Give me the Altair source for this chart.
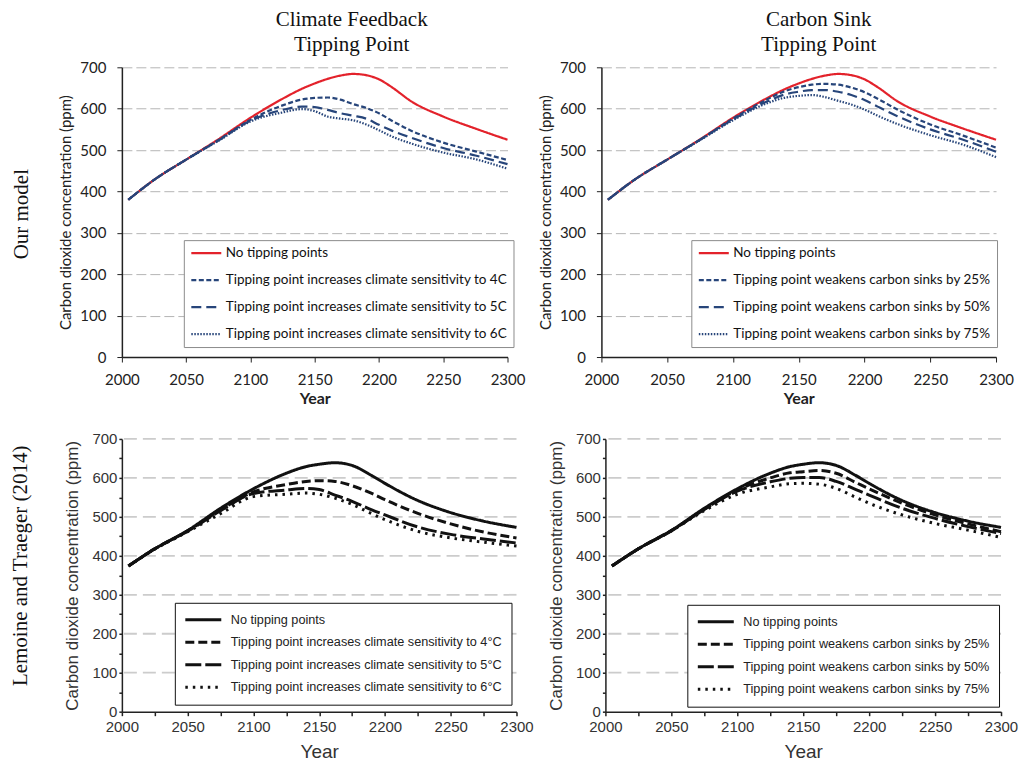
import altair as alt
import pandas as pd

# ---------------- data ----------------
YEARS_OURS = [2005, 2025, 2050, 2075, 2100, 2125, 2140, 2150, 2160, 2170, 2180, 2190, 2200, 2210, 2225, 2250, 2275, 2300]
OURS_NO_TIP = [380, 428, 477, 526, 578, 624, 648, 661, 672, 680, 684, 681, 671, 652, 618, 581, 552, 525]
OURS_CS4 = [380, 428, 477, 524, 573, 608, 622, 626, 627, 622, 611, 602, 589, 571, 547, 518, 497, 476]
OURS_CS5 = [380, 428, 477, 523, 571, 597, 605, 604, 597, 589, 583, 576, 561, 547, 530, 505, 487, 466]
OURS_CS6 = [380, 428, 477, 522, 569, 591, 599, 594, 581, 576, 572, 562, 548, 533, 516, 494, 478, 455]
OURS_SINK25 = [380, 428, 477, 525, 576, 621, 643, 652, 658, 660, 658, 651, 640, 624, 598, 562, 535, 506]
OURS_SINK50 = [380, 428, 477, 525, 574, 616, 635, 641, 645, 645, 641, 633, 621, 605, 582, 550, 525, 496]
OURS_SINK75 = [380, 428, 477, 524, 572, 612, 627, 631, 633, 628, 619, 610, 598, 583, 563, 536, 513, 483]

YEARS_LT = [2005, 2025, 2050, 2075, 2100, 2125, 2140, 2150, 2162, 2175, 2190, 2200, 2225, 2250, 2275, 2300]
LT_NO_TIP = [374, 418, 465, 522, 572, 612, 629, 635, 639, 632, 606, 586, 542, 511, 489, 473]
LT_CS4 = [374, 418, 464, 518, 564, 583, 591, 593, 591, 580, 560, 544, 509, 482, 461, 446]
LT_CS5 = [374, 418, 463, 516, 560, 569, 573, 570, 556, 540, 518, 505, 474, 455, 443, 433]
LT_CS6 = [374, 417, 462, 508, 552, 558, 561, 558, 548, 532, 508, 493, 463, 446, 435, 425]
LT_SINK25 = [374, 418, 465, 520, 569, 600, 613, 616, 619, 612, 588, 572, 535, 505, 482, 462]
LT_SINK50 = [374, 418, 464, 519, 566, 590, 599, 601, 601, 591, 570, 556, 522, 496, 475, 457]
LT_SINK75 = [374, 418, 464, 516, 558, 577, 585, 586, 584, 573, 550, 535, 505, 483, 466, 447]

LABELS_OURS_CS = [
    "No tipping points",
    "Tipping point increases climate sensitivity to 4C",
    "Tipping point increases climate sensitivity to 5C",
    "Tipping point increases climate sensitivity to 6C",
]
LABELS_SINK = [
    "No tipping points",
    "Tipping point weakens carbon sinks by 25%",
    "Tipping point weakens carbon sinks by 50%",
    "Tipping point weakens carbon sinks by 75%",
]
LABELS_LT_CS = [
    "No tipping points",
    "Tipping point increases climate sensitivity to 4°C",
    "Tipping point increases climate sensitivity to 5°C",
    "Tipping point increases climate sensitivity to 6°C",
]
COL_TITLES = [["Climate Feedback", "Tipping Point"], ["Carbon Sink", "Tipping Point"]]
ROW_LABELS = ["Our model", "Lemoine and Traeger (2014)"]
X_TICKS = [2000, 2050, 2100, 2150, 2200, 2250, 2300]
X_TICKS_MINOR = [2000, 2025, 2050, 2075, 2100, 2125, 2150, 2175, 2200, 2225, 2250, 2275, 2300]
Y_TICKS = [0, 100, 200, 300, 400, 500, 600, 700]
Y_TICKS_MINOR = [0, 50, 100, 150, 200, 250, 300, 350, 400, 450, 500, 550, 600, 650, 700]
Y_GRID_LT = [100, 200, 300, 400, 500, 600, 700]

X_TITLE = "Year"
Y_TITLE = "Carbon dioxide concentration (ppm)"

# ---------------- styles ----------------
RED = "#e3222b"
BLUE = "#27457a"
TOP_COLORS = [RED, BLUE, BLUE, BLUE]
TOP_DASHES = [[1, 0], [5, 2.5], [10, 5], [1.5, 1.5]]
TOP_WIDTHS = [2.2, 2.2, 2.2, 1.6]
BOT_COLORS = ["#111111"] * 4
BOT_DASHES = [[1, 0], [9, 4], [16, 4], [2.5, 5]]
BOT_WIDTHS = [3, 3, 2, 2.5]

TOP_FONT = "Lato"
BOT_FONT = "Liberation Sans"
SERIF = "Liberation Serif"

TOP_H = 290
BOT_H = 273
ROW_GAP = 82


def long_df(years, series, labels):
    rows = []
    for lab, vals in zip(labels, series):
        for yr, v in zip(years, vals):
            rows.append({"year": yr, "ppm": v, "series": lab})
    return pd.DataFrame(rows)


def top_panel(series, labels, width, legend_x, title, title_dx, row_label=None):
    df = long_df(YEARS_OURS, series, labels)
    xs = alt.Scale(domain=[2000, 2300], nice=False, zero=False)
    ys = alt.Scale(domain=[0, 700], nice=False)
    xa = alt.Axis(values=X_TICKS, format="d", grid=False, tickSize=5, tickColor="#222",
                  domainColor="#222", domainWidth=1.5, labelFont=TOP_FONT, labelFontSize=15,
                  labelColor="#222", labelPadding=11, labelFlush=False, title=X_TITLE,
                  titleFont=TOP_FONT, titleFontSize=16, titleFontWeight="bold", titleColor="#222",
                  titlePadding=3)
    ya = alt.Axis(values=Y_TICKS, grid=True, gridColor="#b5b5b5", gridDash=[10, 4], gridWidth=1,
                  tickSize=5, tickColor="#222", domainColor="#222", domainWidth=1.5,
                  labelFont=TOP_FONT, labelFontSize=15, labelColor="#222", labelPadding=11,
                  title=Y_TITLE, titleFont=TOP_FONT, titleFontSize=15, titleFontWeight="normal",
                  titleColor="#222", titlePadding=6)
    legend = alt.Legend(title=None, orient="none", legendX=legend_x, legendY=173, direction="vertical",
                        fillColor="white", strokeColor="#8c8c8c", padding=6, symbolType="stroke",
                        symbolSize=900, clipHeight=14, rowPadding=13, labelFont=TOP_FONT,
                        labelFontSize=13.5, labelColor="#111", labelOffset=3, labelLimit=500)
    lines = alt.Chart(df).mark_line(interpolate="monotone").encode(
        x=alt.X("year:Q", scale=xs, axis=xa),
        y=alt.Y("ppm:Q", scale=ys, axis=ya),
        color=alt.Color("series:N", sort=labels, scale=alt.Scale(domain=labels, range=TOP_COLORS), legend=legend),
        strokeDash=alt.StrokeDash("series:N", sort=labels, scale=alt.Scale(domain=labels, range=TOP_DASHES), legend=legend),
        strokeWidth=alt.StrokeWidth("series:N", sort=labels, scale=alt.Scale(domain=labels, range=TOP_WIDTHS), legend=legend),
    )
    layers = [lines]
    if row_label:
        layers.append(
            alt.Chart(pd.DataFrame({"t": [row_label]})).mark_text(
                angle=270, font=SERIF, fontSize=21, color="#111", align="center", baseline="middle"
            ).encode(text="t:N", x=alt.value(-100), y=alt.value(147))
        )
    return alt.layer(*layers).properties(
        width=width, height=TOP_H,
        title=alt.TitleParams(text=title, font=SERIF, fontSize=21, fontWeight="normal", color="#111",
                              anchor="middle", frame="group", dx=title_dx, offset=5, lineHeight=25),
    )


def bottom_panel(series, labels, width, legend_x, legend_y, row_label=None):
    df = long_df(YEARS_LT, series, labels)
    xs = alt.Scale(domain=[2000, 2300], nice=False, zero=False)
    ys = alt.Scale(domain=[0, 700], nice=False)
    xa = alt.Axis(values=X_TICKS_MINOR, format="d", grid=False, tickSize=4, tickColor="#222",
                  tickWidth=1.5, domainColor="#222", domainWidth=1.5,
                  labelExpr="datum.value % 50 === 0 ? datum.label : ''", labelFlush=False,
                  labelFont=BOT_FONT, labelFontSize=15, labelColor="#333", labelPadding=4,
                  title=X_TITLE, titleFont=BOT_FONT, titleFontSize=19, titleFontWeight="normal",
                  titleColor="#333", titlePadding=8)
    ya = alt.Axis(values=Y_TICKS_MINOR, grid=False, tickSize=3, tickColor="#222", tickWidth=1.5,
                  domainColor="#222", domainWidth=1.5,
                  labelExpr="datum.value % 100 === 0 ? datum.label : ''",
                  labelFont=BOT_FONT, labelFontSize=15, labelColor="#333", labelPadding=2,
                  title=Y_TITLE, titleFont=BOT_FONT, titleFontSize=17, titleFontWeight="normal",
                  titleColor="#333", titlePadding=10)
    legend = alt.Legend(title=None, orient="none", legendX=legend_x, legendY=legend_y, direction="vertical",
                        fillColor="white", strokeColor="#111", padding=9, symbolType="stroke",
                        symbolSize=1296, clipHeight=16, rowPadding=6.5, labelFont=BOT_FONT,
                        labelFontSize=12.7, labelColor="#222", labelOffset=8, labelLimit=500)
    grid = alt.Chart(pd.DataFrame({"ppm": Y_GRID_LT})).mark_rule(
        color="#cccccc", strokeDash=[13, 6], strokeWidth=1.8
    ).encode(y=alt.Y("ppm:Q", scale=ys, axis=ya))
    lines = alt.Chart(df).mark_line(interpolate="monotone").encode(
        x=alt.X("year:Q", scale=xs, axis=xa),
        y=alt.Y("ppm:Q", scale=ys, axis=ya),
        color=alt.Color("series:N", sort=labels, scale=alt.Scale(domain=labels, range=BOT_COLORS), legend=legend),
        strokeDash=alt.StrokeDash("series:N", sort=labels, scale=alt.Scale(domain=labels, range=BOT_DASHES), legend=legend),
        strokeWidth=alt.StrokeWidth("series:N", sort=labels, scale=alt.Scale(domain=labels, range=BOT_WIDTHS), legend=legend),
    )
    layers = [grid, lines]
    if row_label:
        layers.append(
            alt.Chart(pd.DataFrame({"t": [row_label]})).mark_text(
                angle=270, font=SERIF, fontSize=21, color="#111", align="center", baseline="middle"
            ).encode(text="t:N", x=alt.value(-101), y=alt.value(127))
        )
    return alt.layer(*layers).properties(width=width, height=BOT_H)


tl = top_panel([OURS_NO_TIP, OURS_CS4, OURS_CS5, OURS_CS6], LABELS_OURS_CS, 386, 62,
               COL_TITLES[0], 37, ROW_LABELS[0])
tr = top_panel([OURS_NO_TIP, OURS_SINK25, OURS_SINK50, OURS_SINK75], LABELS_SINK, 395, 90,
               COL_TITLES[1], 20)
bl = bottom_panel([LT_NO_TIP, LT_CS4, LT_CS5, LT_CS6], LABELS_LT_CS, 395, 53, 164, ROW_LABELS[1])
br = bottom_panel([LT_NO_TIP, LT_SINK25, LT_SINK50, LT_SINK75], LABELS_SINK, 396, 82, 166)

top_row = alt.hconcat(tl, tr, spacing=94, bounds="flush").resolve_scale(
    color="independent", strokeDash="independent", strokeWidth="independent")
bot_row = alt.hconcat(bl, br, spacing=89, bounds="flush").resolve_scale(
    color="independent", strokeDash="independent", strokeWidth="independent")

# nested rows count as zero-height in a flush layout, so the spacing carries the top plot height
chart = alt.vconcat(top_row, bot_row, spacing=TOP_H + ROW_GAP, bounds="flush").resolve_scale(
    color="independent", strokeDash="independent", strokeWidth="independent"
).properties(
    padding={"left": 10, "top": 9, "right": 5, "bottom": 5}, background="white"
).configure_view(stroke=None)

chart.save("out.html", embed_options={"renderer": "svg", "actions": False})
